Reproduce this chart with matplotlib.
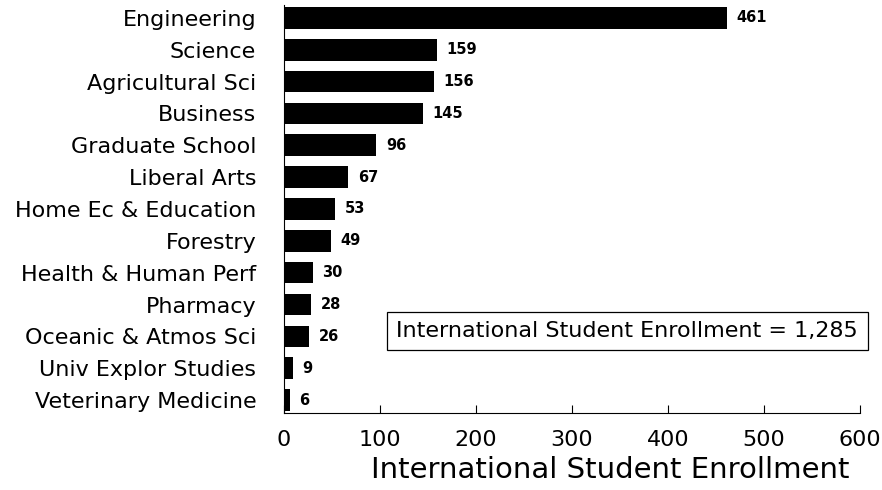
import matplotlib.pyplot as plt

categories = [
    "Engineering", "Science", "Agricultural Sci", "Business", "Graduate School",
    "Liberal Arts", "Home Ec & Education", "Forestry", "Health & Human Perf",
    "Pharmacy", "Oceanic & Atmos Sci", "Univ Explor Studies", "Veterinary Medicine",
]
enrollment = [461, 159, 156, 145, 96, 67, 53, 49, 30, 28, 26, 9, 6]
total_label = "International Student Enrollment = 1,285"
x_ticks = [0, 100, 200, 300, 400, 500, 600]

plt.rcParams['font.family'] = ['DejaVu Sans']

fig = plt.figure(figsize=(8.82, 4.9), dpi=100)
ax = fig.add_axes([0.322, 0.157, 0.653, 0.833])

ypos = list(range(len(categories)))
ax.barh(ypos, enrollment, height=0.68, color='black')
for y, v in zip(ypos, enrollment):
    ax.text(v + 10, y, str(v), va='center', ha='left', fontsize=10.5, fontweight='bold')

ax.set_ylim(len(categories) - 1 + 0.41, -0.41)
ax.set_xlim(0, 600)
ax.set_yticks(ypos)
ax.set_yticklabels(categories, fontsize=16)
ax.tick_params(axis='y', length=0, pad=20)
ax.set_xticks(x_ticks)
ax.set_xticklabels([str(t) for t in x_ticks], fontsize=16)
ax.tick_params(axis='x', direction='in', length=6, pad=12, width=0.8)
ax.spines['top'].set_visible(False)
ax.spines['right'].set_visible(False)
ax.set_xlabel('International Student Enrollment', fontsize=21, labelpad=6)
ax.xaxis.set_label_coords(0.566, -0.105)

ax.text(0.997, 0.201, total_label, transform=ax.transAxes, ha='right', va='center',
        fontsize=16, bbox=dict(boxstyle='square,pad=0.42', fc='white', ec='black', lw=0.9))

fig.savefig('out.png', dpi=100)
